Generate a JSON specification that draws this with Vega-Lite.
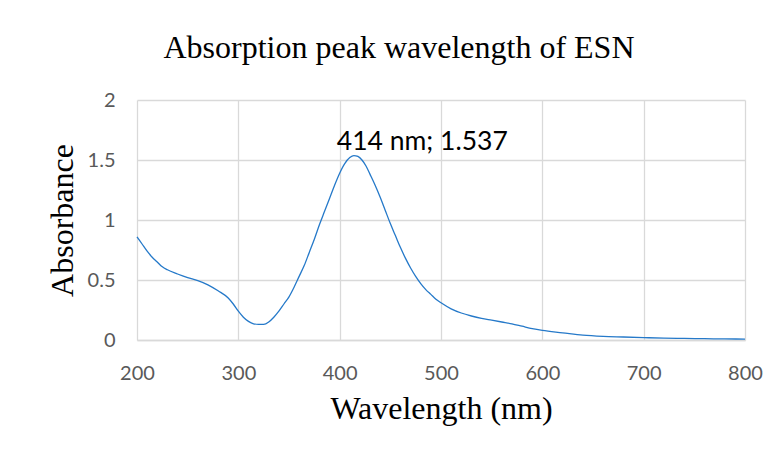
{
  "$schema": "https://vega.github.io/schema/vega-lite/v6.json",
  "width": 608,
  "height": 240,
  "autosize": "none",
  "padding": {"left": 137, "top": 100, "right": 35, "bottom": 116},
  "background": "white",
  "title": {
    "text": "Absorption peak wavelength of ESN",
    "font": "Liberation Serif",
    "fontSize": 32,
    "fontWeight": "normal",
    "color": "#000000",
    "anchor": "middle",
    "frame": "group",
    "baseline": "alphabetic",
    "offset": 40,
    "dx": -42,
    "dy": 40
  },
  "config": {
    "view": {"stroke": null},
    "axis": {
      "labelFont": "Lato",
      "labelFontSize": 20,
      "labelColor": "#595959",
      "labelFlush": false,
      "titleFont": "Liberation Serif",
      "titleFontSize": 32,
      "titleFontWeight": "normal",
      "titleColor": "#000000",
      "gridColor": "#d9d9d9",
      "gridWidth": 1.3,
      "ticks": false
    }
  },
  "datasets": {
    "spectrum": [
      {"wavelength": 200, "absorbance": 0.86},
      {"wavelength": 205, "absorbance": 0.80},
      {"wavelength": 210, "absorbance": 0.74},
      {"wavelength": 215, "absorbance": 0.69},
      {"wavelength": 220, "absorbance": 0.65},
      {"wavelength": 225, "absorbance": 0.61},
      {"wavelength": 230, "absorbance": 0.585},
      {"wavelength": 240, "absorbance": 0.55},
      {"wavelength": 250, "absorbance": 0.52},
      {"wavelength": 260, "absorbance": 0.495},
      {"wavelength": 270, "absorbance": 0.46},
      {"wavelength": 280, "absorbance": 0.41},
      {"wavelength": 290, "absorbance": 0.35},
      {"wavelength": 295, "absorbance": 0.30},
      {"wavelength": 300, "absorbance": 0.24},
      {"wavelength": 305, "absorbance": 0.19},
      {"wavelength": 310, "absorbance": 0.155},
      {"wavelength": 315, "absorbance": 0.135},
      {"wavelength": 320, "absorbance": 0.13},
      {"wavelength": 325, "absorbance": 0.13},
      {"wavelength": 330, "absorbance": 0.15},
      {"wavelength": 335, "absorbance": 0.19},
      {"wavelength": 340, "absorbance": 0.24},
      {"wavelength": 345, "absorbance": 0.30},
      {"wavelength": 350, "absorbance": 0.36},
      {"wavelength": 355, "absorbance": 0.44},
      {"wavelength": 360, "absorbance": 0.53},
      {"wavelength": 365, "absorbance": 0.62},
      {"wavelength": 370, "absorbance": 0.73},
      {"wavelength": 375, "absorbance": 0.84},
      {"wavelength": 380, "absorbance": 0.96},
      {"wavelength": 385, "absorbance": 1.07},
      {"wavelength": 390, "absorbance": 1.18},
      {"wavelength": 395, "absorbance": 1.29},
      {"wavelength": 400, "absorbance": 1.39},
      {"wavelength": 405, "absorbance": 1.47},
      {"wavelength": 410, "absorbance": 1.52},
      {"wavelength": 414, "absorbance": 1.537},
      {"wavelength": 418, "absorbance": 1.53},
      {"wavelength": 422, "absorbance": 1.50},
      {"wavelength": 426, "absorbance": 1.45},
      {"wavelength": 430, "absorbance": 1.38},
      {"wavelength": 435, "absorbance": 1.29},
      {"wavelength": 440, "absorbance": 1.19},
      {"wavelength": 445, "absorbance": 1.08},
      {"wavelength": 450, "absorbance": 0.97},
      {"wavelength": 455, "absorbance": 0.87},
      {"wavelength": 460, "absorbance": 0.77},
      {"wavelength": 465, "absorbance": 0.68},
      {"wavelength": 470, "absorbance": 0.60},
      {"wavelength": 475, "absorbance": 0.53},
      {"wavelength": 480, "absorbance": 0.47},
      {"wavelength": 485, "absorbance": 0.42},
      {"wavelength": 490, "absorbance": 0.38},
      {"wavelength": 495, "absorbance": 0.34},
      {"wavelength": 500, "absorbance": 0.31},
      {"wavelength": 510, "absorbance": 0.26},
      {"wavelength": 520, "absorbance": 0.225},
      {"wavelength": 530, "absorbance": 0.20},
      {"wavelength": 540, "absorbance": 0.18},
      {"wavelength": 550, "absorbance": 0.165},
      {"wavelength": 560, "absorbance": 0.15},
      {"wavelength": 570, "absorbance": 0.135},
      {"wavelength": 580, "absorbance": 0.115},
      {"wavelength": 590, "absorbance": 0.095},
      {"wavelength": 600, "absorbance": 0.08},
      {"wavelength": 620, "absorbance": 0.06},
      {"wavelength": 640, "absorbance": 0.04},
      {"wavelength": 660, "absorbance": 0.03},
      {"wavelength": 680, "absorbance": 0.025},
      {"wavelength": 700, "absorbance": 0.02},
      {"wavelength": 720, "absorbance": 0.016},
      {"wavelength": 740, "absorbance": 0.013},
      {"wavelength": 760, "absorbance": 0.011},
      {"wavelength": 780, "absorbance": 0.009},
      {"wavelength": 800, "absorbance": 0.008}
    ],
    "peak": [
      {"wavelength": 414, "absorbance": 1.537, "label": "414 nm; 1.537"}
    ]
  },
  "layer": [
    {
      "data": {"name": "spectrum"},
      "mark": {"type": "line", "color": "#2579C9", "strokeWidth": 1.3, "interpolate": "monotone"},
      "encoding": {
        "x": {
          "field": "wavelength",
          "type": "quantitative",
          "scale": {"domain": [200, 800], "nice": false, "zero": false},
          "axis": {
            "title": "Wavelength (nm)",
            "values": [200, 300, 400, 500, 600, 700, 800],
            "grid": true,
            "domain": true,
            "domainColor": "#d9d9d9",
            "domainWidth": 1.3,
            "labelPadding": 23,
            "titleX": 304,
            "titleY": 78,
            "titleBaseline": "alphabetic"
          }
        },
        "y": {
          "field": "absorbance",
          "type": "quantitative",
          "scale": {"domain": [0, 2], "nice": false},
          "axis": {
            "title": "Absorbance",
            "values": [0, 0.5, 1, 1.5, 2],
            "format": "~g",
            "grid": true,
            "domain": false,
            "labelPadding": 22,
            "titleAngle": -90,
            "titleX": -75,
            "titleY": 120,
            "titleAlign": "center",
            "titleBaseline": "middle"
          }
        }
      }
    },
    {
      "data": {"name": "peak"},
      "mark": {"type": "text", "font": "Lato", "fontSize": 26.5, "color": "#000000", "align": "left", "baseline": "alphabetic", "dx": -17, "dy": -6},
      "encoding": {
        "x": {"field": "wavelength", "type": "quantitative"},
        "y": {"field": "absorbance", "type": "quantitative"},
        "text": {"field": "label"}
      }
    }
  ]
}
